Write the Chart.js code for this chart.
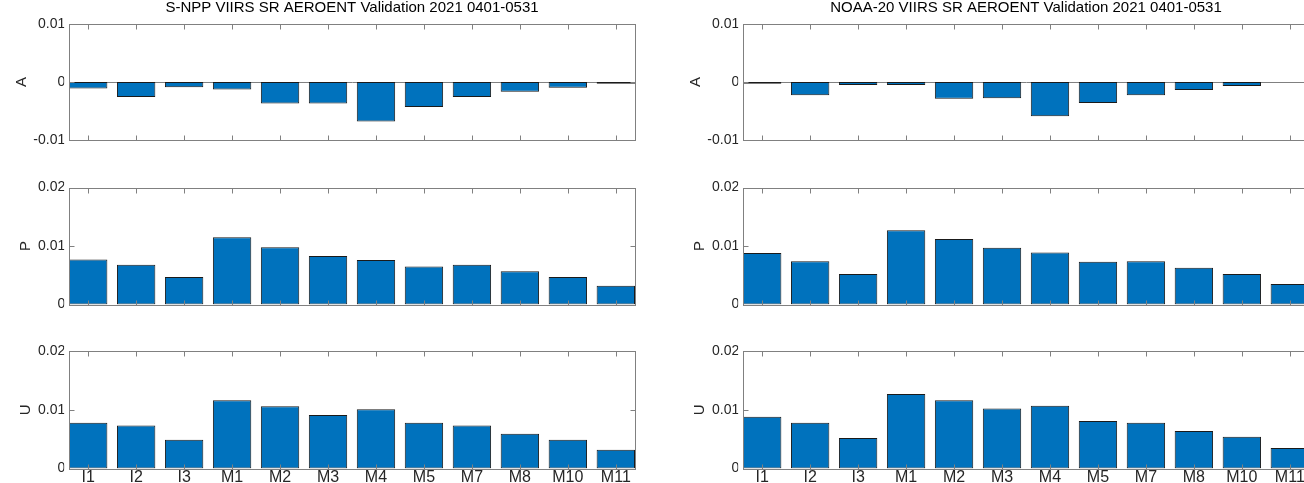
<!DOCTYPE html>
<html>
<head>
    <meta charset="UTF-8">
    <title>VIIRS SR AEROENT Validation 2021 0401-0531</title>
    <style>
        html, body { margin: 0; padding: 0; overflow: hidden; background: #fff; }
        body { width: 1304px; height: 483px; position: relative; }
        canvas { position: absolute; }
    </style>
</head>
<body>
    <canvas id="snppA"></canvas>
    <canvas id="snppP"></canvas>
    <canvas id="snppU"></canvas>
    <canvas id="n20A"></canvas>
    <canvas id="n20P"></canvas>
    <canvas id="n20U"></canvas>

    <script src="https://cdn.jsdelivr.net/npm/chart.js"></script>
    <script>
        // band names on the x axis
        const bands = ['I1', 'I2', 'I3', 'M1', 'M2', 'M3', 'M4', 'M5', 'M7', 'M8', 'M10', 'M11'];

        // S-NPP: accuracy, precision, uncertainty
        const snppA = [-0.0011, -0.0026, -0.0009, -0.0013, -0.0037, -0.0037, -0.0068, -0.0043, -0.0026, -0.0017, -0.0010, -0.0003];
        const snppP = [0.0077, 0.0068, 0.0047, 0.0115, 0.0098, 0.0083, 0.0076, 0.0065, 0.0068, 0.0057, 0.0047, 0.0032];
        const snppU = [0.0078, 0.0073, 0.0049, 0.0116, 0.0106, 0.0091, 0.0101, 0.0078, 0.0073, 0.0059, 0.0049, 0.0032];

        // NOAA-20
        const n20A = [-0.0003, -0.0023, -0.0005, -0.0005, -0.0029, -0.0028, -0.0059, -0.0036, -0.0023, -0.0014, -0.0007, 0];
        const n20P = [0.0088, 0.0074, 0.0052, 0.0127, 0.0112, 0.0097, 0.0089, 0.0073, 0.0074, 0.0063, 0.0052, 0.0035];
        const n20U = [0.0088, 0.0078, 0.0052, 0.0127, 0.0116, 0.0102, 0.0107, 0.0081, 0.0078, 0.0064, 0.0054, 0.0035];

        // y ranges and tick step
        const rangeA = [-0.01, 0.01];
        const rangePU = [0, 0.02];
        const yStep = 0.01;

        const titles = [
            'S-NPP VIIRS SR AEROENT Validation 2021 0401-0531',
            'NOAA-20 VIIRS SR AEROENT Validation 2021 0401-0531'
        ];

        Chart.defaults.font.family = '"Liberation Sans", Arial, sans-serif';

        const boxColor = '#808080';
        const textColor = '#262626';
        const crisp = v => Math.round(v) + 0.5;

        // axes box limits are [0.6, 12.4] like matlab bar(), inside the category slots
        function boxEdges(chart) {
            const { chartArea, scales: { x } } = chart;
            const step = x.getPixelForValue(1) - x.getPixelForValue(0);
            return {
                left: crisp(x.getPixelForValue(0) - 0.4 * step),
                right: crisp(x.getPixelForValue(bands.length - 1) + 0.4 * step),
                top: crisp(chartArea.top),
                bottom: crisp(chartArea.bottom)
            };
        }

        const matlabAxes = {
            id: 'matlabAxes',
            beforeDatasetsDraw(chart) {
                const { ctx, scales: { y } } = chart;
                if (y.min >= 0) return;
                const e = boxEdges(chart);
                const y0 = crisp(y.getPixelForValue(0));
                ctx.save();
                ctx.strokeStyle = boxColor;
                ctx.lineWidth = 1;
                ctx.beginPath();
                ctx.moveTo(e.left, y0);
                ctx.lineTo(e.right, y0);
                ctx.stroke();
                ctx.restore();
            },
            afterDatasetsDraw(chart) {
                const { ctx, scales: { x, y } } = chart;
                const e = boxEdges(chart);
                const len = 5;
                ctx.save();
                ctx.strokeStyle = boxColor;
                ctx.lineWidth = 1;
                ctx.strokeRect(e.left, e.top, e.right - e.left, e.bottom - e.top);
                ctx.beginPath();
                bands.forEach((b, i) => {
                    const px = crisp(x.getPixelForValue(i));
                    ctx.moveTo(px, e.top); ctx.lineTo(px, e.top + len);
                    ctx.moveTo(px, e.bottom); ctx.lineTo(px, e.bottom - len);
                });
                y.ticks.forEach(t => {
                    const py = crisp(y.getPixelForValue(t.value));
                    ctx.moveTo(e.left, py); ctx.lineTo(e.left + len, py);
                    ctx.moveTo(e.right, py); ctx.lineTo(e.right - len, py);
                });
                ctx.stroke();
                ctx.restore();
            }
        };

        // canvas rows: top, height, padding top, padding bottom
        const rows = [
            { top: 0, height: 150, padTop: 0, padBottom: 10 },
            { top: 163, height: 150, padTop: 24.5, padBottom: 8.5 },
            { top: 327, height: 156, padTop: 24, padBottom: 0 }
        ];
        const colLeft = [0, 674];
        const canvasWidth = 660;
        const yAxisWidth = 64.2;
        const padRight = 20.2;

        const panels = [
            { id: 'snppA', col: 0, row: 0, data: snppA, label: 'A', range: rangeA },
            { id: 'snppP', col: 0, row: 1, data: snppP, label: 'P', range: rangePU },
            { id: 'snppU', col: 0, row: 2, data: snppU, label: 'U', range: rangePU },
            { id: 'n20A', col: 1, row: 0, data: n20A, label: 'A', range: rangeA },
            { id: 'n20P', col: 1, row: 1, data: n20P, label: 'P', range: rangePU },
            { id: 'n20U', col: 1, row: 2, data: n20U, label: 'U', range: rangePU }
        ];

        panels.forEach(p => {
            const r = rows[p.row];
            const canvas = document.getElementById(p.id);
            canvas.width = canvasWidth;
            canvas.height = r.height;
            canvas.style.left = colLeft[p.col] + 'px';
            canvas.style.top = r.top + 'px';
            const isBottom = p.row === 2;

            new Chart(canvas, {
                type: 'bar',
                data: {
                    labels: bands,
                    datasets: [{
                        data: p.data,
                        backgroundColor: '#0072BD',
                        borderColor: '#1a1a1a',
                        borderWidth: 1,
                        borderSkipped: false,
                        categoryPercentage: 0.8,
                        barPercentage: 1.0
                    }]
                },
                options: {
                    responsive: false,
                    animation: false,
                    devicePixelRatio: 1,
                    layout: {
                        padding: { left: 0, right: padRight, top: r.padTop, bottom: r.padBottom }
                    },
                    plugins: {
                        legend: { display: false },
                        tooltip: { enabled: false },
                        title: {
                            display: p.row === 0,
                            text: titles[p.col],
                            fullSize: false,
                            color: '#000',
                            font: { size: 15, weight: 'normal', lineHeight: 1 },
                            padding: { top: 0, bottom: 9 }
                        }
                    },
                    scales: {
                        x: {
                            display: isBottom,
                            offset: true,
                            grid: { display: false, drawTicks: false },
                            border: { display: false },
                            ticks: {
                                color: textColor,
                                font: { size: 16 },
                                padding: -1,
                                maxRotation: 0,
                                autoSkip: false
                            },
                            afterFit: s => { s.height = isBottom ? 14.5 : 0; }
                        },
                        y: {
                            min: p.range[0],
                            max: p.range[1],
                            grid: { display: false, drawTicks: false },
                            border: { display: false },
                            ticks: {
                                stepSize: yStep,
                                color: textColor,
                                font: { size: 14 },
                                padding: -1,
                                callback: v => String(Math.round(v * 100) / 100)
                            },
                            title: {
                                display: true,
                                text: p.label,
                                color: textColor,
                                font: { size: 15 },
                                padding: { top: p.label === 'A' ? 13 : 16.5, bottom: 0 }
                            },
                            afterFit: s => { s.width = yAxisWidth; }
                        }
                    }
                },
                plugins: [matlabAxes]
            });
        });
    </script>
</body>
</html>
